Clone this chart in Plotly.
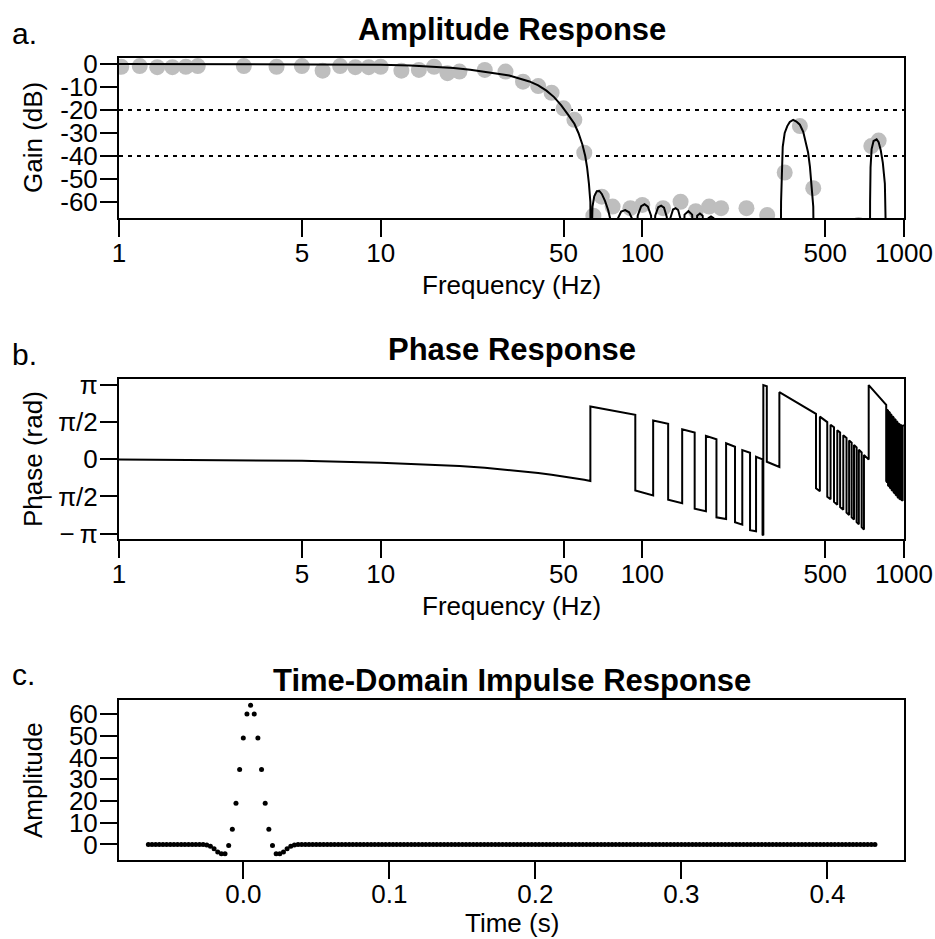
import numpy as np
import plotly.graph_objects as go

# ---------------- data ----------------
# a. Amplitude response: measured points (grey) and model curve (black)
meas_freq = [1.02, 1.2, 1.4, 1.6, 1.8, 2.0, 3.0, 4.0, 5.0, 6.0, 7.0, 8.0, 9.0, 10.0,
             12, 14, 16, 18, 20, 25, 30, 35, 40, 45, 50, 55, 60, 65, 70, 77, 90, 100,
             120, 140, 160, 180, 200, 250, 300, 350, 400, 450, 670, 750, 800]
meas_gain = [-1.2, -0.9, -1.4, -1.4, -1.2, -0.9, -0.9, -1.2, -0.9, -2.9, -0.9, -1.4, -1.4, -1.2,
             -2.9, -2.6, -1.2, -4.0, -3.3, -2.6, -3.3, -7.7, -9.6, -12.5, -19.3, -24.3, -38.6, -66, -57.7, -62, -62.7, -61.3,
             -62.7, -59.9, -64, -62, -62.7, -62.7, -65.7, -47.2, -27, -54, -70, -35.7, -33.3]

curve_freq = [1, 3, 6, 10, 13, 16, 19, 22, 25, 28, 31, 34, 37, 40, 43, 46, 49, 52, 55, 57, 59,
              60.5, 61.5, 62.5, 63.3, 63.5,
              64.5, 65.5, 67, 68.5, 70, 72, 74, 76, 78,
              80, 83, 86, 89, 92, 94,
              96, 99, 102, 105, 108, 110,
              112, 115, 118, 121, 124, 126,
              128, 131, 134, 137, 140, 142,
              145, 150, 155, 158.5,
              162, 166, 170, 175,
              179, 183, 187, 192,
              260, 338,
              339, 341, 344, 350, 358, 366, 377, 388, 400, 412, 420, 430, 437, 446, 450, 452.6,
              600, 741,
              742, 745, 752, 765, 786, 800, 815, 830, 845, 855, 858,
              1000]
curve_gain = [0, 0, -0.1, -0.3, -0.7, -1.2, -1.8, -2.5, -3.3, -4.2, -5.0, -6.2, -7.6, -9.3, -11.6, -14.4, -18.0, -22, -26, -30, -35,
              -40, -45, -52, -60, -90,
              -62, -57.5, -55.3, -55.2, -56.5, -59.5, -63.5, -69, -90,
              -68, -64.2, -63.5, -64.5, -68, -90,
              -66, -61.8, -61, -62, -66, -90,
              -66, -62.3, -61.6, -62.5, -66.5, -90,
              -67, -63.3, -62.7, -63.5, -67.5, -90,
              -65.5, -64, -65.5, -90,
              -66, -65, -66, -90,
              -67, -66.3, -67, -90,
              -90, -90,
              -60, -45, -36, -30, -27, -25.2, -24.3, -25, -26.4, -29.5, -33, -38.5, -44.6, -55, -62, -90,
              -90, -90,
              -60, -45, -37, -33.5, -32.8, -34, -37.5, -43, -52, -63, -90,
              -90]
ref_levels_db = [-20, -40]

# b. Phase response (vertices of the wrapped phase curve)
phase_freq = [1, 2, 5, 10, 15, 20, 25, 30, 35, 40, 45, 50, 55, 60, 63.3,
              63.3, 94, 94, 110, 110, 125.5, 125.5, 142, 142, 158.5, 158.5, 175, 175, 192, 192,
              209, 209, 226, 226, 241, 241, 258, 258, 272, 272, 288, 288, 290, 290, 299, 299, 334, 334,
              461, 461, 477, 477, 509, 509, 524, 524, 540, 540, 556, 556, 570, 570, 586, 586,
              603, 603, 617, 617, 631, 631, 644, 644, 659, 659, 672, 672, 689, 689, 703, 703,
              733, 733, 855, 855,
              862, 862, 869, 869, 876, 876, 883, 883, 890, 890, 897, 897, 905, 905, 913, 913,
              921, 921, 929, 929, 937, 937, 945, 945, 953, 953, 961, 961, 970, 970, 979, 979,
              988, 988, 1000]
phase_rad = [-0.015, -0.03, -0.07, -0.15, -0.22, -0.29, -0.36, -0.44, -0.51, -0.58, -0.66, -0.73, -0.80, -0.87, -0.92,
             2.22, 1.87, -1.32, -1.53, 1.63, 1.49, -1.71, -1.86, 1.26, 1.12, -2.09, -2.19, 0.98, 0.84, -2.45,
             -2.52, 0.67, 0.52, -2.66, -2.76, 0.38, 0.27, -2.99, -3.04, 0.10, -0.01, -3.18, -3.2, 3.12, 3.07, -0.11, -0.33, 2.82,
             1.91, -1.23, -1.35, 1.79, 1.56, -1.58, -1.69, 1.45, 1.34, -1.80, -1.92, 1.22, 1.12, -2.02, -2.13, 1.01,
             0.89, -2.25, -2.35, 0.79, 0.69, -2.45, -2.54, 0.60, 0.49, -2.65, -2.74, 0.40, 0.28, -2.86, -2.96, 0.18,
             -0.02, 3.12, 2.29, -0.92,
             -0.98, 2.08, 2.04, -1.10, -1.14, 2.00, 1.95, -1.19, -1.24, 1.90, 1.85, -1.29, -1.34, 1.80, 1.75, -1.39,
             -1.44, 1.70, 1.65, -1.49, -1.54, 1.60, 1.55, -1.59, -1.64, 1.50, 1.47, -1.67, -1.70, 1.45, 1.42, -1.72,
             -1.75, 1.40, 1.44]
phase_tickvals = [np.pi, np.pi / 2, 0, -np.pi / 2, -np.pi]
phase_ticktext = ["π", "π/2", "0", "−\u2009π/2", "−\u2009π"]

# c. Time-domain impulse response (sampled every 2.5 ms starting at -65 ms)
t_start, t_step, n_samples = -0.065, 0.0025, 200
impulse_core = [-0.2, -0.8, -2.0, -3.4, -4.2, -4.2, -0.5, 7.0, 19.0, 34.5, 49.0, 60.0, 64.0,
                60.0, 49.0, 34.5, 19.0, 7.0, -0.5, -4.2, -4.2, -3.4, -2.0, -0.8, -0.2]
lead_zeros, tail_zeros = 16, 159
impulse_vals = [0.0] * lead_zeros + impulse_core + [0.0] * tail_zeros
impulse_time = [t_start + i * t_step for i in range(n_samples)]

freq_ticks = [1, 5, 10, 50, 100, 500, 1000]
gain_ticks = [0, -10, -20, -30, -40, -50, -60]
amp_ticks = [0, 10, 20, 30, 40, 50, 60]
time_ticks = [0.0, 0.1, 0.2, 0.3, 0.4]

# ---------------- layout helpers ----------------
W, H = 935, 939
FONT = "Liberation Sans, Arial, Helvetica, sans-serif"
def px(x):
    return x / W
def py(y):
    return 1 - y / H

X_DOM = [px(119), px(904)]
DOM_A = [py(218.3), py(58)]
DOM_B = [py(539.3), py(379)]
DOM_C = [py(860), py(699.5)]

fig = go.Figure()

fig.add_trace(go.Scatter(x=meas_freq, y=meas_gain, mode="markers",
                         marker=dict(size=16, color="#BEBEBE", line=dict(width=0)),
                         xaxis="x", yaxis="y", showlegend=False))
fig.add_trace(go.Scatter(x=curve_freq, y=curve_gain, mode="lines",
                         line=dict(color="black", width=2),
                         xaxis="x", yaxis="y", showlegend=False))
fig.add_trace(go.Scatter(x=phase_freq, y=phase_rad, mode="lines",
                         line=dict(color="black", width=2),
                         xaxis="x2", yaxis="y2", showlegend=False))
fig.add_trace(go.Scatter(x=impulse_time, y=impulse_vals, mode="markers",
                         marker=dict(size=5, color="black"),
                         xaxis="x3", yaxis="y3", showlegend=False))

for lv in ref_levels_db:
    fig.add_shape(type="line", xref="x domain", yref="y", x0=0, x1=1, y0=lv, y1=lv,
                  line=dict(color="black", width=2, dash="4px,5px"), layer="below")

axis_common = dict(showline=True, linecolor="black", linewidth=2, mirror=True,
                   ticks="outside", ticklen=17, tickwidth=2, tickcolor="black",
                   showgrid=False, zeroline=False, automargin=False,
                   tickfont=dict(family=FONT, size=26, color="black"))
x_common = dict(axis_common, ticklabelstandoff=-7)
y_common = dict(axis_common, ticklabelstandoff=-3)

fig.update_layout(
    width=W, height=H, autosize=False,
    margin=dict(l=0, r=0, t=0, b=0, pad=0),
    paper_bgcolor="white", plot_bgcolor="white",
    xaxis=dict(domain=X_DOM, anchor="y", type="log", range=[0, 3],
               tickvals=freq_ticks, ticktext=[str(v) for v in freq_ticks], **x_common),
    yaxis=dict(domain=DOM_A, anchor="x", range=[-67.1, 2.6],
               tickvals=gain_ticks, ticktext=[str(v) for v in gain_ticks], **y_common),
    xaxis2=dict(domain=X_DOM, anchor="y2", type="log", range=[0, 3],
                tickvals=freq_ticks, ticktext=[str(v) for v in freq_ticks], **x_common),
    yaxis2=dict(domain=DOM_B, anchor="x2", range=[-3.375, 3.375],
                tickvals=phase_tickvals, ticktext=phase_ticktext, **y_common),
    xaxis3=dict(domain=X_DOM, anchor="y3", range=[-0.0851, 0.4524],
                tickvals=time_ticks, ticktext=[f"{v:.1f}" for v in time_ticks], **x_common),
    yaxis3=dict(domain=DOM_C, anchor="x3", range=[-7.13, 66.67],
                tickvals=amp_ticks, ticktext=[str(v) for v in amp_ticks], **y_common),
)

def ann(text, x, y, size=26, bold=False, angle=0, xanchor="center"):
    fig.add_annotation(text=f"<b>{text}</b>" if bold else text, x=px(x), y=py(y),
                       xref="paper", yref="paper", showarrow=False,
                       xanchor=xanchor, yanchor="middle", textangle=angle,
                       font=dict(family=FONT, size=size, color="black"))

ann("Amplitude Response", 511.5, 29, size=31, bold=True)
ann("Phase Response", 511.5, 349, size=31, bold=True)
ann("Time-Domain Impulse Response", 511.5, 680, size=31, bold=True)
ann("Frequency (Hz)", 511.5, 285)
ann("Frequency (Hz)", 511.5, 606)
ann("Time (s)", 511.5, 923)
ann("Gain (dB)", 33, 138, angle=-90)
ann("Phase (rad)", 33, 459, angle=-90)
ann("Amplitude", 33, 780, angle=-90)
ann("a.", 10, 34, size=30, xanchor="left")
ann("b.", 10, 354, size=30, xanchor="left")
ann("c.", 10, 674, size=30, xanchor="left")

fig.write_html("out.html")
